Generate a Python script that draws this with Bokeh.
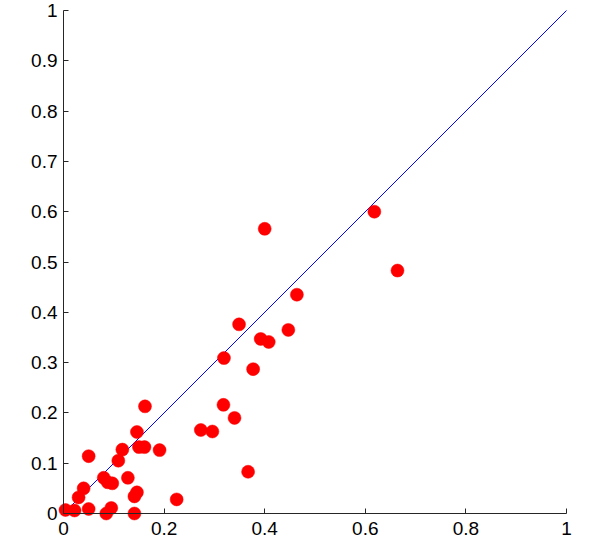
from bokeh.plotting import figure
from bokeh.models import Range1d, FixedTicker
from bokeh.embed import file_html
from bokeh.resources import INLINE

# data
x_vals = [0.004, 0.022, 0.030, 0.040, 0.050, 0.050, 0.080, 0.085, 0.088, 0.097,
          0.095, 0.109, 0.117, 0.128, 0.141, 0.141, 0.146, 0.146, 0.150, 0.161,
          0.162, 0.191, 0.225, 0.273, 0.296, 0.318, 0.319, 0.340, 0.349, 0.367,
          0.377, 0.392, 0.400, 0.408, 0.447, 0.464, 0.618, 0.664]
y_vals = [0.007, 0.006, 0.032, 0.050, 0.009, 0.114, 0.071, 0.000, 0.062, 0.060,
          0.011, 0.105, 0.127, 0.071, 0.000, 0.034, 0.042, 0.162, 0.132, 0.132,
          0.213, 0.126, 0.028, 0.166, 0.163, 0.216, 0.309, 0.190, 0.376, 0.083,
          0.287, 0.347, 0.566, 0.341, 0.365, 0.435, 0.600, 0.483]
ref_line_x = [0, 1]
ref_line_y = [0, 1]

x_ticks = [0, 0.2, 0.4, 0.6, 0.8, 1]
x_tick_labels = ["0", "0.2", "0.4", "0.6", "0.8", "1"]
y_ticks = [0, 0.1, 0.2, 0.3, 0.4, 0.5, 0.6, 0.7, 0.8, 0.9, 1]
y_tick_labels = ["0", "0.1", "0.2", "0.3", "0.4", "0.5", "0.6", "0.7", "0.8", "0.9", "1"]

# axes span 0..1 over 503 px; the frame is padded so that the markers at 0
# and the tick labels are not clipped (axes are placed at data 0)
unit_px = 503
pad_left = 45
pad_bottom = 32
pad_hi = 10

x_range = Range1d(-pad_left / unit_px, 1 + pad_hi / unit_px)
y_range = Range1d(-pad_bottom / unit_px, 1 + pad_hi / unit_px)

frame_w = unit_px + pad_left + pad_hi
frame_h = unit_px + pad_bottom + pad_hi
left = 63 - pad_left
top = 10 - pad_hi

p = figure(width=585, height=548, output_backend="svg", toolbar_location=None,
           x_range=x_range, y_range=y_range,
           min_border_left=left, min_border_right=585 - left - frame_w,
           min_border_top=top, min_border_bottom=548 - top - frame_h)
p.outline_line_color = None
p.xgrid.grid_line_color = None
p.ygrid.grid_line_color = None

p.line(ref_line_x, ref_line_y, line_color="#0000ff", line_width=1)
p.scatter(x_vals, y_vals, size=13, fill_color="#ff0000", line_color="#ff0000", line_width=0.5)

for ax, ticks, labels, standoff in ((p.xaxis[0], x_ticks, x_tick_labels, 8),
                                    (p.yaxis[0], y_ticks, y_tick_labels, 6)):
    ax.fixed_location = 0
    ax.bounds = (0, 1)
    ax.ticker = FixedTicker(ticks=ticks)
    ax.major_label_overrides = {t: l for t, l in zip(ticks, labels)}
    ax.major_tick_in = 5
    ax.major_tick_out = 0
    ax.minor_tick_in = 0
    ax.minor_tick_out = 0
    ax.axis_line_color = "#262626"
    ax.major_tick_line_color = "#262626"
    ax.major_label_text_font = "Liberation Sans"
    ax.major_label_text_font_size = "19px"
    ax.major_label_text_color = "black"
    ax.major_label_standoff = standoff

open("out.html", "w").write(file_html(p, INLINE))
